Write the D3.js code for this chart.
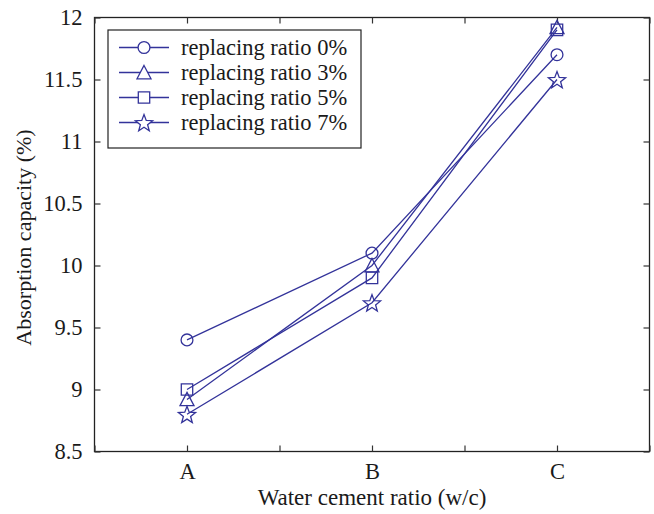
<!DOCTYPE html>
<html><head><meta charset="utf-8">
<script src="https://cdn.jsdelivr.net/npm/d3@7"></script>
<style>body{margin:0;background:#fff}svg{display:block}text{font-family:"Liberation Serif","Times New Roman",serif;fill:#1a1a1a}</style>
</head><body>
<svg id="c" width="654" height="514"></svg>
<script>
const categories = ["A", "B", "C"];
const seriesNames = ["replacing ratio 0%", "replacing ratio 3%", "replacing ratio 5%", "replacing ratio 7%"];
const values0 = [9.4, 10.1, 11.7];
const values3 = [8.92, 10.0, 11.92];
const values5 = [9.0, 9.9, 11.9];
const values7 = [8.8, 9.7, 11.5];
const yTicks = [8.5, 9, 9.5, 10, 10.5, 11, 11.5, 12];
const xTickPos = [0.5, 1, 1.5, 2, 2.5, 3, 3.5];
const markers = ["circle", "triangle", "square", "star"];
const seriesValues = [values0, values3, values5, values7];

const color = "#33339a";
const svg = d3.select("#c");
const L = 94.5, R = 649.5, T = 17.5, B = 451.5;
const x = d3.scaleLinear().domain([0.5, 3.5]).range([L, R]);
const y = d3.scaleLinear().domain([8.5, 12]).range([B, T]);

// frame
svg.append("rect").attr("x", L).attr("y", T).attr("width", R - L).attr("height", B - T)
  .attr("fill", "none").attr("stroke", "#222").attr("stroke-width", 1.3);

const tl = 6;
const yl = svg.append("g").attr("transform", `translate(${L},0)`)
  .call(d3.axisLeft(y).tickValues(yTicks).tickSize(-tl).tickPadding(12).tickFormat(d3.format("")));
const yr = svg.append("g").attr("transform", `translate(${R},0)`)
  .call(d3.axisRight(y).tickValues(yTicks).tickSize(-tl).tickFormat(""));
const xb = svg.append("g").attr("transform", `translate(0,${B})`)
  .call(d3.axisBottom(x).tickValues(xTickPos).tickSize(-tl).tickPadding(12)
    .tickFormat(d => Number.isInteger(d) ? categories[d - 1] : ""));
const xt = svg.append("g").attr("transform", `translate(0,${T})`)
  .call(d3.axisTop(x).tickValues(xTickPos).tickSize(-tl).tickFormat(""));
[yl, yr, xb, xt].forEach(g => {
  g.select(".domain").remove();
  g.selectAll(".tick line").attr("stroke", "#333").attr("stroke-width", 1.2);
  g.selectAll("text").style("font-size", "22.5px").attr("fill", "#1a1a1a")
    .style("font-family", '"Liberation Serif","Times New Roman",serif');
});

// axis labels
svg.append("text").attr("x", (L + R) / 2).attr("y", 505).attr("text-anchor", "middle")
  .style("font-size", "23px").text("Water cement ratio (w/c)");
svg.append("text").attr("transform", `translate(31,${(T + B) / 2 + 3}) rotate(-90)`)
  .attr("text-anchor", "middle").style("font-size", "22px").text("Absorption capacity (%)");

function markerPath(type) {
  if (type === "circle") return d3.symbol(d3.symbolCircle, 110)();
  if (type === "square") return d3.symbol(d3.symbolSquare, 130)();
  if (type === "triangle") {
    const s = 7;
    return `M0,${-s}L${s},${s * 0.9}L${-s},${s * 0.9}Z`;
  }
  const ro = 9, ri = 3.8;
  let p = "";
  for (let i = 0; i < 10; i++) {
    const r = i % 2 === 0 ? ro : ri;
    const a = -Math.PI / 2 + i * Math.PI / 5;
    p += (i ? "L" : "M") + (r * Math.cos(a)).toFixed(2) + "," + (r * Math.sin(a) + 1).toFixed(2);
  }
  return p + "Z";
}

const line = d3.line().x((d, i) => x(i + 1)).y(d => y(d));
seriesValues.forEach((vals, si) => {
  svg.append("path").attr("d", line(vals)).attr("fill", "none").attr("stroke", color).attr("stroke-width", 1.3);
  svg.selectAll(null).data(vals).enter().append("path")
    .attr("d", markerPath(markers[si]))
    .attr("transform", (d, i) => `translate(${x(i + 1)},${y(d)})`)
    .attr("fill", "none").attr("stroke", color).attr("stroke-width", 1.3);
});

// legend
const lg = svg.append("g");
const lx = 108, ly = 30, lw = 253, lh = 118;
lg.append("rect").attr("x", lx).attr("y", ly).attr("width", lw).attr("height", lh)
  .attr("fill", "#fff").attr("stroke", "#222").attr("stroke-width", 1.2);
seriesNames.forEach((name, i) => {
  const yy = ly + 17.5 + i * 25;
  lg.append("line").attr("x1", lx + 11).attr("x2", lx + 61).attr("y1", yy).attr("y2", yy)
    .attr("stroke", color).attr("stroke-width", 1.3);
  lg.append("path").attr("d", markerPath(markers[i])).attr("transform", `translate(${lx + 36},${yy})`)
    .attr("fill", "#fff").attr("stroke", color).attr("stroke-width", 1.3);
  lg.append("text").attr("x", lx + 73).attr("y", yy + 7).style("font-size", "22.5px").text(name);
});
</script>
</body></html>
